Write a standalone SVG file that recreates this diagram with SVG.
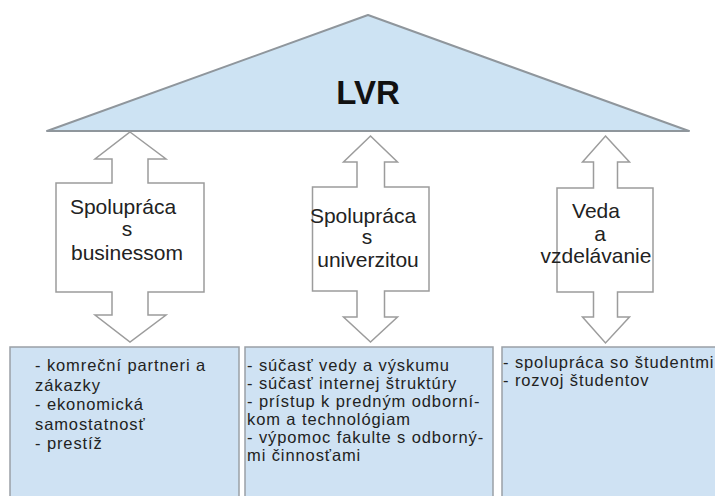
<svg xmlns="http://www.w3.org/2000/svg" width="715" height="496" viewBox="0 0 715 496">
  <style>
    .roof { fill: #cde3f3; stroke: #8f969c; stroke-width: 2; stroke-linejoin: round; }
    .arrow { fill: #ffffff; stroke: #9c9c9c; stroke-width: 1.5; stroke-linejoin: miter; }
    .panel { fill: #cfe2f3; stroke: #9aa0a6; stroke-width: 1.5; }
    .title { font-family: "Liberation Sans", Arial, sans-serif; font-weight: bold; font-size: 33px; fill: #111; text-anchor: middle; }
    .label { font-family: "Liberation Sans", Arial, sans-serif; font-size: 21px; fill: #222; text-anchor: middle; }
    .item { font-family: "Liberation Sans", Arial, sans-serif; font-size: 16.5px; letter-spacing: 0.9px; fill: #222; }
  </style>

  <!-- roof -->
  <g id="lvr">
    <polygon class="roof" points="368,15 689,131 47,131"/>
    <text class="title" x="368" y="104">LVR</text>
  </g>

  <!-- two-way arrows linking the roof with the panels -->
  <g id="connectors">
    <g id="arrow-business">
      <polygon class="arrow" points="130,132 166,159 148,159 148,183 204,183 204,292 148,292 148,315 166,315 130,342 95,315 112,315 112,292 56,292 56,183 112,183 112,159 95,159"/>
      <text class="label" x="123" y="214">Spolupráca</text>
      <text class="label" x="127" y="236">s</text>
      <text class="label" x="127" y="260">businessom</text>
    </g>
    <g id="arrow-university">
      <polygon class="arrow" points="370.5,136 397.5,162 384.5,162 384.5,187 429,187 429,291 384.5,291 384.5,317 397.5,317 370.5,342 343.5,317 357,317 357,291 312.5,291 312.5,187 357,187 357,162 343.5,162"/>
      <text class="label" x="363" y="223">Spolupráca</text>
      <text class="label" x="367" y="244">s</text>
      <text class="label" x="368" y="267">univerzitou</text>
    </g>
    <g id="arrow-science">
      <polygon class="arrow" points="605.5,136 629.5,162 617.5,162 617.5,188 653,188 653,292 617.5,292 617.5,317 629.5,317 605.5,343 582.5,317 593.5,317 593.5,292 557,292 557,188 593.5,188 593.5,162 582.5,162"/>
      <text class="label" x="596" y="218">Veda</text>
      <text class="label" x="600" y="241">a</text>
      <text class="label" x="596" y="263">vzdelávanie</text>
    </g>
  </g>

  <!-- detail panels -->
  <g id="panel-business">
    <rect class="panel" x="10" y="347" width="229" height="160"/>
    <text class="item" x="35" y="371">- komreční partneri a</text>
    <text class="item" x="35" y="391">zákazky</text>
    <text class="item" x="35" y="410">- ekonomická</text>
    <text class="item" x="35" y="430">samostatnosť</text>
    <text class="item" x="35" y="449">- prestíž</text>
  </g>
  <g id="panel-university">
    <rect class="panel" x="245" y="347" width="248" height="160"/>
    <text class="item" x="247" y="371">- súčasť vedy a výskumu</text>
    <text class="item" x="247" y="389">- súčasť internej štruktúry</text>
    <text class="item" x="247" y="407">- prístup k predným odborní-</text>
    <text class="item" x="247" y="425">kom a technológiam</text>
    <text class="item" x="247" y="443">- výpomoc fakulte s odborný-</text>
    <text class="item" x="247" y="461">mi činnosťami</text>
  </g>
  <g id="panel-science">
    <rect class="panel" x="502" y="347" width="230" height="160"/>
    <text class="item" x="503" y="368">- spolupráca so študentmi</text>
    <text class="item" x="503" y="386">- rozvoj študentov</text>
  </g>
</svg>
